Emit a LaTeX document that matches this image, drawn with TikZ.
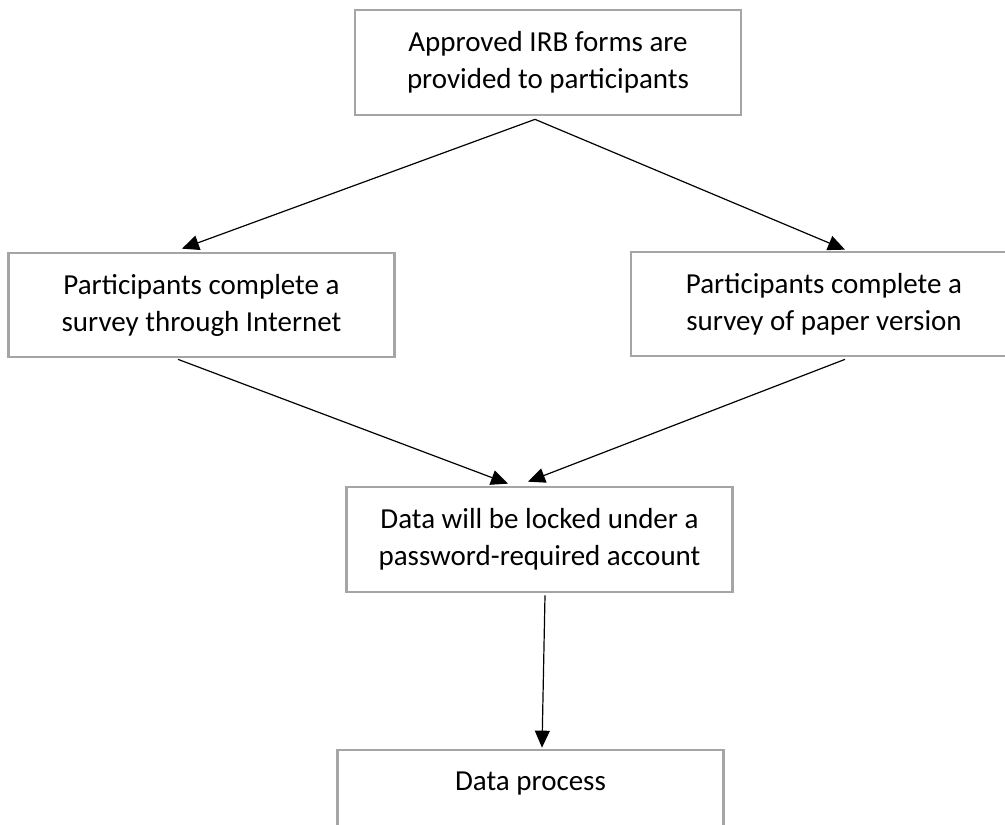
\documentclass[tikz,border=0pt]{standalone}
\usepackage{fontspec}
\setmainfont{Carlito}
\usetikzlibrary{arrows.meta}
\definecolor{boxgray}{HTML}{A5A5A5}
\begin{document}
\begin{tikzpicture}[x=1pt,y=-1pt,
  flowbox/.style={draw=boxgray, line width=2.7pt, rectangle, minimum width=386pt,
    minimum height=105pt, inner sep=0pt, align=center,
    font=\fontsize{29}{37}\selectfont},
  conn/.style={line width=1.2pt, -{Triangle[length=17pt,width=15pt]}}]
\useasboundingbox (0,0) rectangle (1005,825);
\clip (0,0) rectangle (1005,825);
\fill[white] (0,0) rectangle (1005,825);
\node[flowbox] (top) at (548,62.5) {Approved IRB forms are\\provided to participants};
\node[flowbox, minimum height=104pt] (left) at (201.5,305) {Participants complete a\\survey through Internet};
\node[flowbox, minimum height=104pt] (right) at (824,304) {Participants complete a\\survey of paper version};
\node[flowbox] (mid) at (539.5,539.5) {Data will be locked under a\\password-required account};
\node[flowbox, text height=40pt, text depth=65pt] (bottom) at (530.5,802.5) {Data process};
\draw[conn] ([xshift=-13pt,yshift=-3pt]top.south) -- ([xshift=-19.5pt,yshift=3pt]left.north);
\draw[conn] ([xshift=-13pt,yshift=-3pt]top.south) -- ([xshift=21pt,yshift=1pt]right.north);
\draw[conn] ([xshift=-23.5pt,yshift=-1pt]left.south) -- ([xshift=-31.5pt,yshift=2pt]mid.north);
\draw[conn] ([xshift=21pt,yshift=-2pt]right.south) -- ([xshift=-11.5pt,yshift=4pt]mid.north);
\draw[conn] ([xshift=5.5pt,yshift=-2pt]mid.south) -- ([xshift=11.5pt,yshift=1pt]bottom.north);
\end{tikzpicture}
\end{document}
